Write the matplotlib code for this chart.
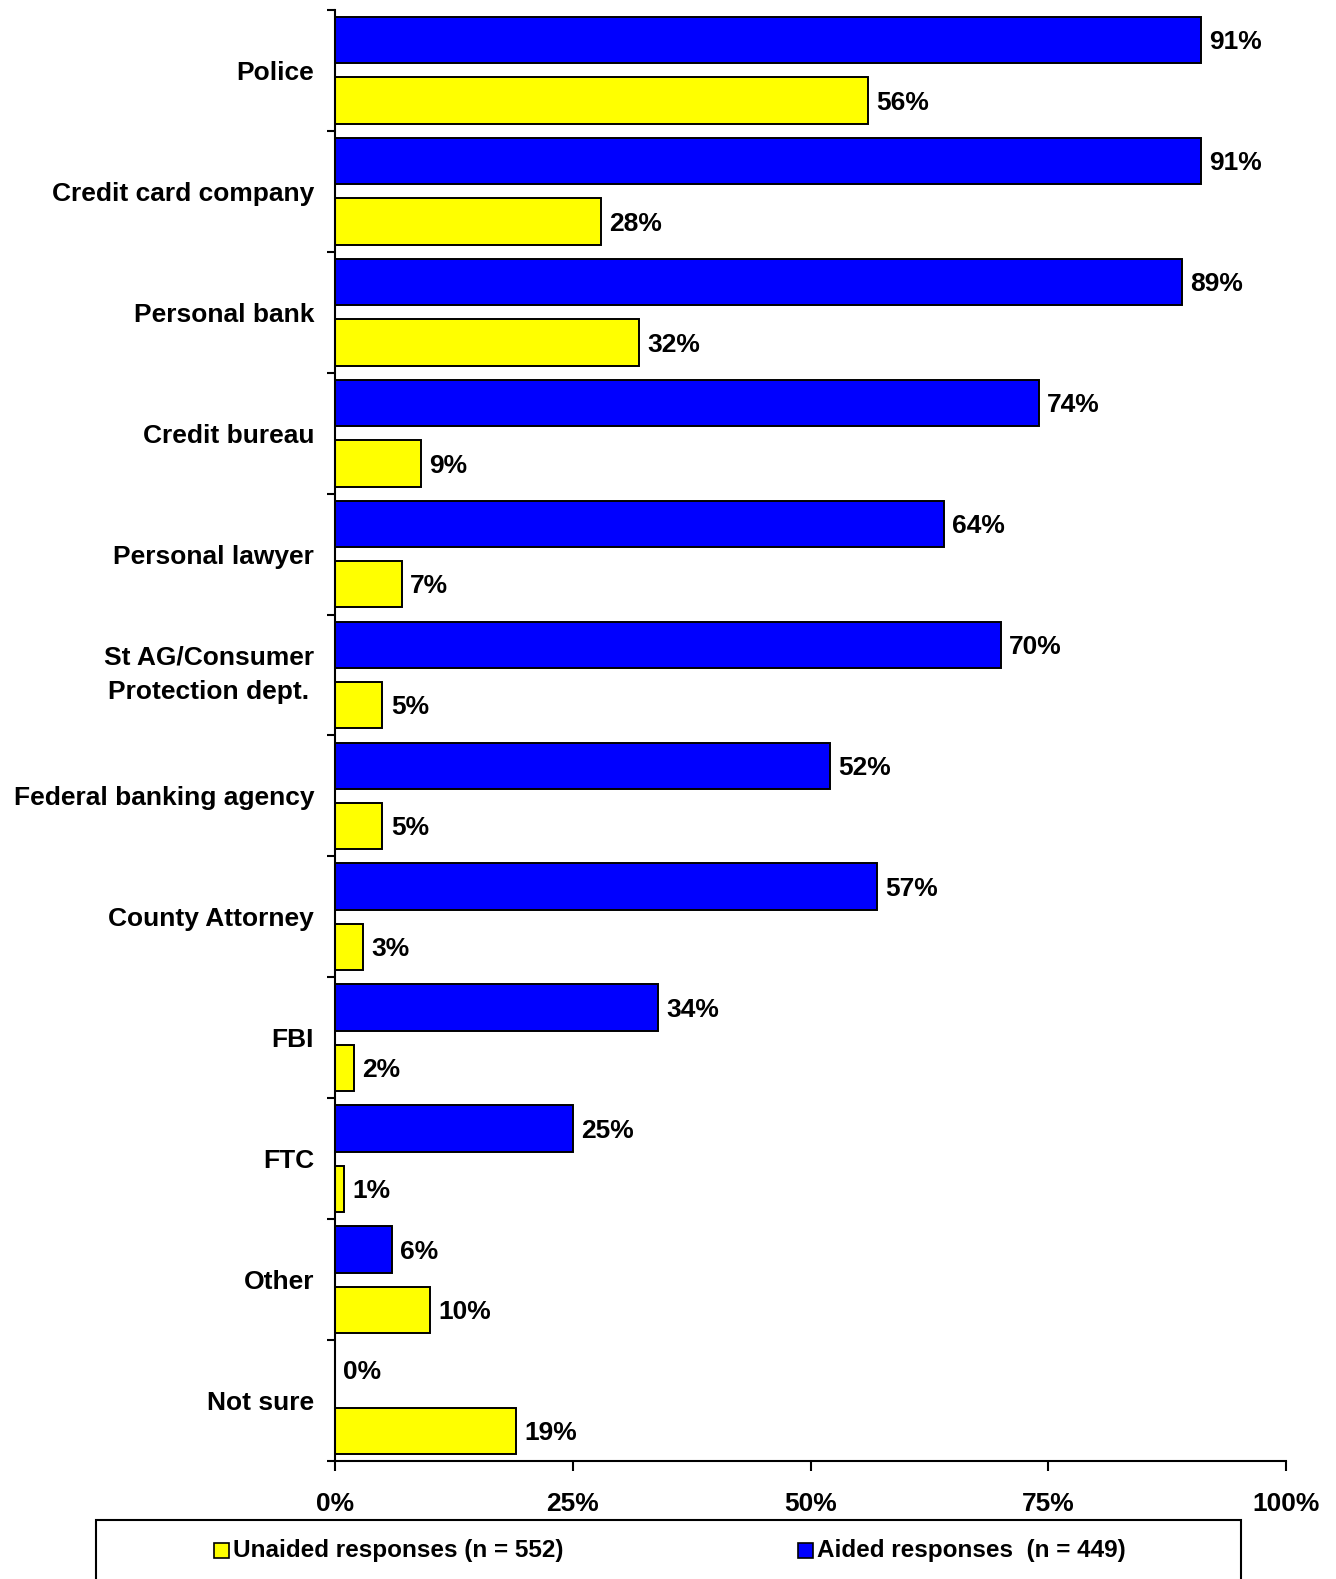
import numpy as np
import matplotlib
matplotlib.use("Agg")
import matplotlib.pyplot as plt
from matplotlib.patches import Rectangle
from matplotlib.ticker import FixedLocator, PercentFormatter

plt.rcParams["font.family"] = ["Liberation Sans", "DejaVu Sans"]
plt.rcParams["font.weight"] = "bold"

categories = ["Police", "Credit card company", "Personal bank", "Credit bureau",
              "Personal lawyer", "St AG/Consumer\nProtection dept.",
              "Federal banking agency", "County Attorney", "FBI", "FTC",
              "Other", "Not sure"]
aided = [91, 91, 89, 74, 64, 70, 52, 57, 34, 25, 6, 0]
unaided = [56, 28, 32, 9, 7, 5, 5, 3, 2, 1, 10, 19]
xticks = [0, 25, 50, 75, 100]

BLUE = "#0000FF"
YELLOW = "#FFFF00"

fig = plt.figure(figsize=(13.36, 15.79), dpi=100)
ax = fig.add_axes([0.2507, 0.0747, 0.712, 0.919])

y = np.arange(len(categories))
h = 0.383
ax.barh(y - 0.25, aided, height=h, color=BLUE, edgecolor="black", linewidth=1.4)
ax.barh(y + 0.25, unaided, height=h, color=YELLOW, edgecolor="black", linewidth=1.4)

for yi, a, u in zip(y, aided, unaided):
    ax.annotate(f"{a}%", (a, yi - 0.25), xytext=(6, -1.5), textcoords="offset points",
                va="center", ha="left", fontsize=19, fontweight="bold")
    ax.annotate(f"{u}%", (u, yi + 0.25), xytext=(6, -1.5), textcoords="offset points",
                va="center", ha="left", fontsize=19, fontweight="bold")

ax.set_xlim(0, 100)
ax.set_ylim(len(categories) - 0.5, -0.5)

ax.set_yticks(y)
ax.set_yticklabels(categories, fontsize=19, fontweight="bold", multialignment="center",
                   linespacing=1.55)
for lab in ax.get_yticklabels():
    if "\n" in lab.get_text():
        lab.set_verticalalignment("center")
ax.yaxis.set_minor_locator(FixedLocator(np.arange(-0.5, len(categories) + 0.5, 1)))
ax.tick_params(axis="y", which="major", length=0, pad=15)
ax.tick_params(axis="y", which="minor", length=6, width=1.5, direction="out")

ax.set_xticks(xticks)
ax.xaxis.set_major_formatter(PercentFormatter(decimals=0))
ax.tick_params(axis="x", length=7, width=1.5, direction="out", pad=15, labelsize=19)
for lab in ax.get_xticklabels():
    lab.set_fontweight("bold")

for side in ["top", "right"]:
    ax.spines[side].set_visible(False)
for side in ["left", "bottom"]:
    ax.spines[side].set_linewidth(1.5)

# legend box along the bottom edge
fig.patches.append(Rectangle((96 / 1336, -0.02), (1241 - 96) / 1336, 0.02 + (1579 - 1520) / 1579,
                             transform=fig.transFigure, facecolor="white",
                             edgecolor="black", linewidth=1.5))
leg_y = 1 - 1550 / 1579
sq_w, sq_h = 15 / 1336, 15 / 1579
entries = [(214, YELLOW, "Unaided responses (n = 552)"),
           (798, BLUE, "Aided responses  (n = 449)")]
for x0, col, txt in entries:
    fig.patches.append(Rectangle((x0 / 1336, leg_y - sq_h / 2), sq_w, sq_h,
                                 transform=fig.transFigure, facecolor=col,
                                 edgecolor="black", linewidth=1.2))
    fig.text((x0 + 19) / 1336, leg_y, txt, ha="left", va="center",
             fontsize=17.5, fontweight="bold")

fig.savefig("out.png", dpi=100)
